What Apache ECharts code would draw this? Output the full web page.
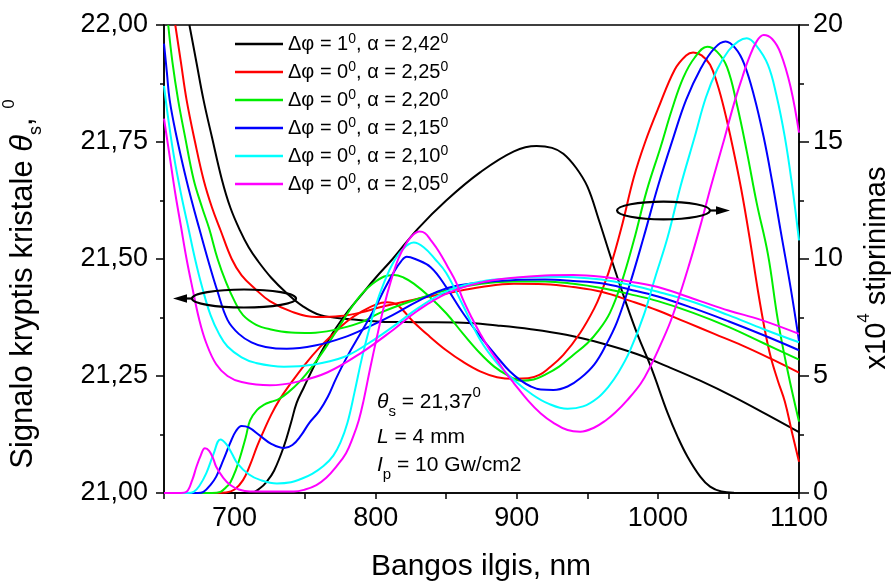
<!DOCTYPE html>
<html>
<head>
<meta charset="utf-8">
<script src="https://cdn.jsdelivr.net/npm/echarts@6/dist/echarts.min.js"></script>
<style>html,body{margin:0;padding:0;background:#fff}#c{width:893px;height:586px}</style>
</head>
<body>
<div id="c"></div>
<script>
// ---------- DATA ----------
const seriesNames = ['Δφ = 1°, α = 2,42°','Δφ = 0°, α = 2,25°','Δφ = 0°, α = 2,20°','Δφ = 0°, α = 2,15°','Δφ = 0°, α = 2,10°','Δφ = 0°, α = 2,05°'];
const seriesColors = ['#000000','#ff0000','#00ee00','#0000ff','#00ffff','#ff00ff'];
const xTicks = [650, 1100, 50];
const leftTicks = [21.0, 22.0, 0.25];
const rightTicks = [0, 20, 5];

// angle curves (left axis), [wavelength nm, angle deg]
const angBlack = [[668,22.0],[673,21.92],[678,21.84],[684,21.76],[691,21.67],[697,21.61],[704,21.56],[710,21.525],[716,21.498],[726,21.46],[737,21.427],[748,21.40],[761,21.38],[780,21.372],[803,21.366],[830,21.365],[862,21.364],[886,21.358],[910,21.35],[935,21.338],[960,21.32],[985,21.297],[1007,21.27],[1030,21.24],[1054,21.205],[1077,21.168],[1100,21.13]];
const angRed = [[658,22.0],[662,21.92],[666,21.84],[672,21.75],[678,21.67],[684,21.61],[690,21.562],[698,21.50],[705,21.465],[715,21.435],[725,21.41],[740,21.388],[758,21.376],[775,21.378],[790,21.386],[803,21.397],[827,21.413],[851,21.427],[875,21.44],[898,21.447],[920,21.446],[940,21.44],[960,21.43],[981,21.41],[1000,21.39],[1020,21.365],[1040,21.34],[1060,21.315],[1080,21.287],[1100,21.257]];
const angGreen = [[653,22.0],[656,21.92],[660,21.84],[665,21.76],[671,21.67],[677,21.61],[682,21.565],[688,21.50],[694,21.45],[700,21.41],[706,21.38],[715,21.36],[725,21.35],[740,21.343],[754,21.342],[770,21.348],[789,21.364],[803,21.385],[827,21.412],[851,21.434],[875,21.447],[898,21.452],[920,21.452],[940,21.447],[960,21.438],[980,21.425],[1000,21.41],[1025,21.385],[1050,21.355],[1075,21.32],[1100,21.285]];
const angBlue = [[650,21.96],[652,21.90],[654,21.84],[659,21.76],[665,21.68],[670,21.62],[675,21.565],[681,21.50],[688,21.43],[695,21.37],[703,21.34],[712,21.322],[722,21.312],[737,21.308],[757,21.315],[777,21.332],[795,21.355],[812,21.38],[830,21.41],[851,21.438],[875,21.45],[898,21.455],[920,21.456],[940,21.453],[960,21.448],[980,21.435],[1000,21.42],[1025,21.395],[1050,21.367],[1075,21.337],[1100,21.305]];
const angCyan = [[650,21.87],[653,21.80],[657,21.72],[662,21.64],[667,21.57],[672,21.50],[677,21.44],[683,21.38],[689,21.34],[695,21.313],[705,21.29],[715,21.278],[735,21.27],[755,21.274],[777,21.29],[795,21.32],[813,21.357],[830,21.395],[851,21.432],[875,21.452],[898,21.459],[920,21.462],[940,21.461],[960,21.456],[980,21.445],[1000,21.43],[1025,21.408],[1050,21.38],[1075,21.35],[1100,21.322]];
const angMagenta = [[650,21.80],[654,21.72],[658,21.64],[662,21.57],[666,21.50],[670,21.44],[675,21.37],[680,21.32],[687,21.275],[695,21.25],[705,21.237],[725,21.23],[745,21.238],[766,21.258],[790,21.30],[813,21.35],[830,21.39],[851,21.427],[875,21.45],[898,21.46],[920,21.465],[940,21.466],[960,21.462],[980,21.452],[1000,21.44],[1030,21.41],[1050,21.39],[1073,21.37],[1100,21.34]];

// gain curves (right axis, x10^4), [wavelength nm, gain]
const gainBlack = [[650,0],[700,0],[712,0.01],[718,0.2],[723,0.5],[728,0.95],[735,2.0],[740,3.0],[744,3.85],[749,4.5],[757,5.5],[765,6.4],[777,7.5],[789,8.4],[800,9.2],[812,10.0],[830,11.3],[850,12.5],[874,13.7],[898,14.6],[914,14.83],[925,14.75],[933,14.5],[942,13.9],[950,13.1],[958,11.7],[967,10.0],[977,8.2],[986,6.7],[995,5.4],[1007,3.4],[1014,2.4],[1021,1.55],[1030,0.7],[1037,0.27],[1045,0.06],[1054,0.01],[1100,0]];
const gainRed = [[650,0],[688,0],[694,0.02],[700,0.15],[706,0.55],[711,1.2],[716,2.0],[721,2.7],[726,3.35],[732,4.0],[740,4.7],[750,5.5],[760,6.2],[770,6.8],[780,7.35],[790,7.75],[800,8.05],[808,8.15],[815,8.05],[827,7.3],[838,6.7],[850,6.1],[862,5.6],[874,5.2],[886,4.95],[898,4.88],[908,4.9],[916,5.05],[922,5.3],[933,5.9],[945,6.85],[955,7.9],[960,8.6],[966,9.6],[974,11.3],[983,13.5],[991,15.0],[1000,16.4],[1012,18.1],[1020,18.7],[1025,18.83],[1031,18.7],[1037,18.3],[1042,17.5],[1047,16.4],[1053,14.8],[1059,13.0],[1065,10.9],[1071,8.6],[1076,6.9],[1080,5.8],[1085,4.8],[1090,3.9],[1095,2.6],[1100,1.34]];
const gainGreen = [[650,0],[684,0],[690,0.05],[694,0.25],[697,0.45],[701,1.0],[704,1.55],[708,2.4],[711,3.1],[716,3.55],[721,3.78],[726,3.9],[731,4.0],[738,4.3],[746,4.75],[755,5.4],[765,6.25],[773,7.0],[782,7.85],[790,8.5],[798,8.95],[806,9.25],[813,9.32],[820,9.2],[827,8.95],[838,8.4],[850,7.68],[862,6.8],[874,5.97],[884,5.4],[893,5.05],[903,4.8],[912,4.85],[920,5.05],[930,5.4],[940,5.9],[950,6.4],[958,6.95],[966,7.7],[974,8.95],[983,10.8],[992,12.9],[1002,14.8],[1010,16.4],[1018,17.75],[1026,18.6],[1035,19.07],[1042,18.85],[1049,18.2],[1056,16.6],[1063,14.6],[1070,12.4],[1078,10.2],[1085,7.4],[1092,5.2],[1100,3.05]];
const gainBlue = [[650,0],[674,0],[678,0.05],[683,0.35],[687,0.7],[692,1.4],[697,2.15],[701,2.65],[705,2.86],[710,2.8],[718,2.45],[726,2.1],[735,1.92],[741,2.05],[747,2.45],[753,3.0],[760,3.5],[766,4.1],[772,4.9],[780,5.85],[790,6.9],[799,7.85],[807,8.8],[813,9.45],[818,9.9],[822,10.1],[828,10.0],[839,9.65],[850,8.8],[862,7.68],[874,6.7],[886,5.82],[895,5.2],[903,4.8],[910,4.55],[917,4.42],[926,4.4],[936,4.55],[945,4.9],[955,5.5],[963,6.3],[971,7.3],[980,8.9],[990,10.95],[1000,13.1],[1011,15.2],[1020,16.8],[1030,18.1],[1040,19.0],[1048,19.29],[1055,19.0],[1061,18.36],[1068,17.0],[1075,15.2],[1081,13.3],[1087,11.2],[1094,8.8],[1100,6.5]];
const gainCyan = [[650,0],[667,0],[671,0.05],[675,0.3],[680,0.85],[685,1.65],[690,2.29],[694,2.1],[698,1.7],[702,1.27],[710,0.8],[718,0.56],[730,0.41],[740,0.46],[747,0.6],[755,0.82],[763,1.15],[770,1.6],[775,2.15],[780,3.0],[785,4.3],[790,5.7],[795,6.9],[800,8.0],[806,9.0],[812,9.8],[819,10.4],[827,10.7],[834,10.5],[842,10.0],[850,9.4],[862,8.0],[874,6.55],[886,5.55],[898,4.83],[910,4.25],[922,3.83],[936,3.6],[947,3.7],[957,4.05],[965,4.55],[972,5.15],[980,6.05],[990,7.6],[998,9.2],[1007,10.95],[1016,13.1],[1026,15.2],[1034,16.9],[1042,18.1],[1050,18.9],[1057,19.3],[1063,19.43],[1070,19.1],[1078,18.3],[1084,17.0],[1090,15.2],[1095,13.2],[1100,10.8]];
const gainMagenta = [[650,0],[662,0],[666,0.05],[670,0.55],[673,1.12],[676,1.6],[679,1.91],[682,1.8],[685,1.45],[687,1.12],[692,0.65],[697,0.34],[703,0.15],[711,0.06],[742,0.06],[750,0.15],[758,0.34],[765,0.65],[772,1.12],[779,1.7],[784,2.4],[788,3.1],[791.5,3.97],[796,5.3],[801,6.7],[806,8.0],[811,9.1],[816,10.0],[821,10.6],[826,11.0],[831,11.17],[835,11.1],[839,10.81],[845,10.3],[851,9.67],[857,9.0],[862,8.25],[868,7.5],[874,6.82],[880,6.2],[886,5.68],[892,5.15],[898,4.69],[908,3.95],[917,3.4],[926,3.0],[936,2.69],[945,2.62],[955,2.8],[963,3.1],[970,3.45],[978,3.95],[988,4.69],[995,5.45],[1002,6.35],[1010,7.5],[1021,9.53],[1030,11.4],[1037.5,13.09],[1046,14.9],[1054,16.65],[1060,17.8],[1064,18.5],[1070,19.3],[1075,19.57],[1081,19.4],[1087,18.79],[1094,17.36],[1100,15.4]];

const angleSets = [angBlack, angRed, angGreen, angBlue, angCyan, angMagenta];
const gainSets = [gainBlack, gainRed, gainGreen, gainBlue, gainCyan, gainMagenta];

// ---------- CHART ----------
const FONT = 'Liberation Sans, Arial, sans-serif';
const chart = echarts.init(document.getElementById('c'), null, {renderer: 'canvas'});

const series = [];
for (let i = 0; i < 6; i++) {
  const common = {
    type: 'line', name: seriesNames[i], showSymbol: false, symbol: 'none',
    smooth: 0.4, clip: true,
    lineStyle: {width: 2, color: seriesColors[i]}, itemStyle: {color: seriesColors[i]},
    emphasis: {disabled: true}, z: 3
  };
  series.push(Object.assign({}, common, {yAxisIndex: 0, data: angleSets[i]}));
  series.push(Object.assign({}, common, {yAxisIndex: 1, data: gainSets[i]}));
}

function legendRich(name) {
  const parts = name.split('°');
  let s = '';
  for (let k = 0; k < parts.length; k++) {
    if (parts[k]) s += '{t|' + parts[k] + '}';
    if (k < parts.length - 1) s += '{s|0}';
  }
  return s;
}

const axisLineStyle = {color: '#000', width: 1.5};
const labelStyle = {color: '#000', fontSize: 27, fontFamily: FONT};

chart.setOption({
  animation: false,
  backgroundColor: '#fff',
  grid: {left: 164, right: 94, top: 25, bottom: 93, show: true, borderColor: '#000', borderWidth: 1.5, backgroundColor: 'transparent'},
  legend: {
    data: seriesNames, orient: 'vertical', left: 235, top: 32, padding: 0, itemGap: 6,
    itemWidth: 48, itemHeight: 2.5, icon: 'rect', selectedMode: false,
    formatter: legendRich,
    textStyle: {
      fontFamily: FONT, color: '#000', fontSize: 20,
      rich: {
        t: {fontSize: 20, fontFamily: FONT, color: '#000', lineHeight: 24, verticalAlign: 'middle'},
        s: {fontSize: 14, fontFamily: FONT, color: '#000', lineHeight: 14, verticalAlign: 'top'}
      }
    }
  },
  xAxis: {
    type: 'value', min: xTicks[0], max: xTicks[1], interval: xTicks[2],
    axisLine: {lineStyle: axisLineStyle},
    axisTick: {length: 6, lineStyle: axisLineStyle},
    axisLabel: Object.assign({margin: 12, formatter: v => (v % 100 === 0 ? String(v) : '')}, labelStyle),
    splitLine: {show: false}
  },
  yAxis: [
    {
      type: 'value', position: 'left', min: leftTicks[0], max: leftTicks[1], interval: leftTicks[2],
      axisLine: {show: true, lineStyle: axisLineStyle},
      axisTick: {show: true, length: 8, lineStyle: axisLineStyle},
      minorTick: {show: true, splitNumber: 2, length: 4, lineStyle: axisLineStyle},
      axisLabel: Object.assign({margin: 16, formatter: v => v.toFixed(2).replace('.', ',')}, labelStyle),
      splitLine: {show: false}, minorSplitLine: {show: false}
    },
    {
      type: 'value', position: 'right', min: rightTicks[0], max: rightTicks[1], interval: rightTicks[2],
      axisLine: {show: true, lineStyle: axisLineStyle},
      axisTick: {show: true, length: 10, lineStyle: axisLineStyle},
      minorTick: {show: true, splitNumber: 2, length: 5, lineStyle: axisLineStyle},
      axisLabel: Object.assign({margin: 14}, labelStyle),
      splitLine: {show: false}, minorSplitLine: {show: false}
    }
  ],
  series: series,
  graphic: [
    // axis titles
    {type: 'text', x: 481, y: 567, style: {text: 'Bangos ilgis, nm', font: '30px ' + FONT, fill: '#000', align: 'center', verticalAlign: 'middle'}},
    {type: 'text', x: 23, y: 284, rotation: Math.PI / 2, style: {
      text: '{m|Signalo kryptis kristale }{i|θ}{b|s}{m|, }{p|0}', align: 'center', verticalAlign: 'middle',
      rich: {
        m: {fontSize: 31, fontFamily: FONT, color: '#000', lineHeight: 44, verticalAlign: 'middle'},
        i: {fontSize: 31, fontFamily: FONT, fontStyle: 'italic', color: '#000', lineHeight: 44, verticalAlign: 'middle'},
        b: {fontSize: 18, fontFamily: FONT, color: '#000', lineHeight: 16, verticalAlign: 'bottom'},
        p: {fontSize: 17, fontFamily: FONT, color: '#000', lineHeight: 14, verticalAlign: 'top'}
      }}},
    {type: 'text', x: 877, y: 268, rotation: Math.PI / 2, style: {
      text: '{m|x10}{p|4}{m| stiprinimas}', align: 'center', verticalAlign: 'middle',
      rich: {
        m: {fontSize: 29, fontFamily: FONT, color: '#000', lineHeight: 42, verticalAlign: 'middle'},
        p: {fontSize: 17, fontFamily: FONT, color: '#000', lineHeight: 14, verticalAlign: 'top'}
      }}},
    // parameter annotation
    {type: 'text', x: 377, y: 402, style: {
      text: '{i|θ}{b|s}{m| = 21,37}{p|0}', align: 'left', verticalAlign: 'middle',
      rich: {
        m: {fontSize: 21, fontFamily: FONT, color: '#000', lineHeight: 34, verticalAlign: 'middle'},
        i: {fontSize: 21, fontFamily: FONT, fontStyle: 'italic', color: '#000', lineHeight: 34, verticalAlign: 'middle'},
        b: {fontSize: 15, fontFamily: FONT, color: '#000', lineHeight: 14, verticalAlign: 'bottom'},
        p: {fontSize: 15, fontFamily: FONT, color: '#000', lineHeight: 14, verticalAlign: 'top'}
      }}},
    {type: 'text', x: 377, y: 437, style: {
      text: '{i|L}{m| = 4 mm}', align: 'left', verticalAlign: 'middle',
      rich: {
        m: {fontSize: 21, fontFamily: FONT, color: '#000', lineHeight: 34, verticalAlign: 'middle'},
        i: {fontSize: 21, fontFamily: FONT, fontStyle: 'italic', color: '#000', lineHeight: 34, verticalAlign: 'middle'}
      }}},
    {type: 'text', x: 377, y: 465, style: {
      text: '{i|I}{b|p}{m| = 10 Gw/cm2}', align: 'left', verticalAlign: 'middle',
      rich: {
        m: {fontSize: 21, fontFamily: FONT, color: '#000', lineHeight: 34, verticalAlign: 'middle'},
        i: {fontSize: 21, fontFamily: FONT, fontStyle: 'italic', color: '#000', lineHeight: 34, verticalAlign: 'middle'},
        b: {fontSize: 15, fontFamily: FONT, color: '#000', lineHeight: 14, verticalAlign: 'bottom'}
      }}},
    // ellipse markers with arrows
    {type: 'ellipse', shape: {cx: 244, cy: 298.5, rx: 52, ry: 9}, style: {fill: 'none', stroke: '#000', lineWidth: 2.2}, z: 10},
    {type: 'line', shape: {x1: 192, y1: 298.5, x2: 184, y2: 298.5}, style: {stroke: '#000', lineWidth: 2.2}, z: 10},
    {type: 'polygon', shape: {points: [[173, 298.5], [187, 294.2], [187, 302.8]]}, style: {fill: '#000'}, z: 10},
    {type: 'ellipse', shape: {cx: 663.5, cy: 210.5, rx: 46.5, ry: 8.8}, style: {fill: 'none', stroke: '#000', lineWidth: 2.2}, z: 10},
    {type: 'line', shape: {x1: 710, y1: 210.5, x2: 720, y2: 210.5}, style: {stroke: '#000', lineWidth: 2.2}, z: 10},
    {type: 'polygon', shape: {points: [[730, 210.5], [716, 206.2], [716, 214.8]]}, style: {fill: '#000'}, z: 10}
  ]
});
</script>
</body>
</html>
